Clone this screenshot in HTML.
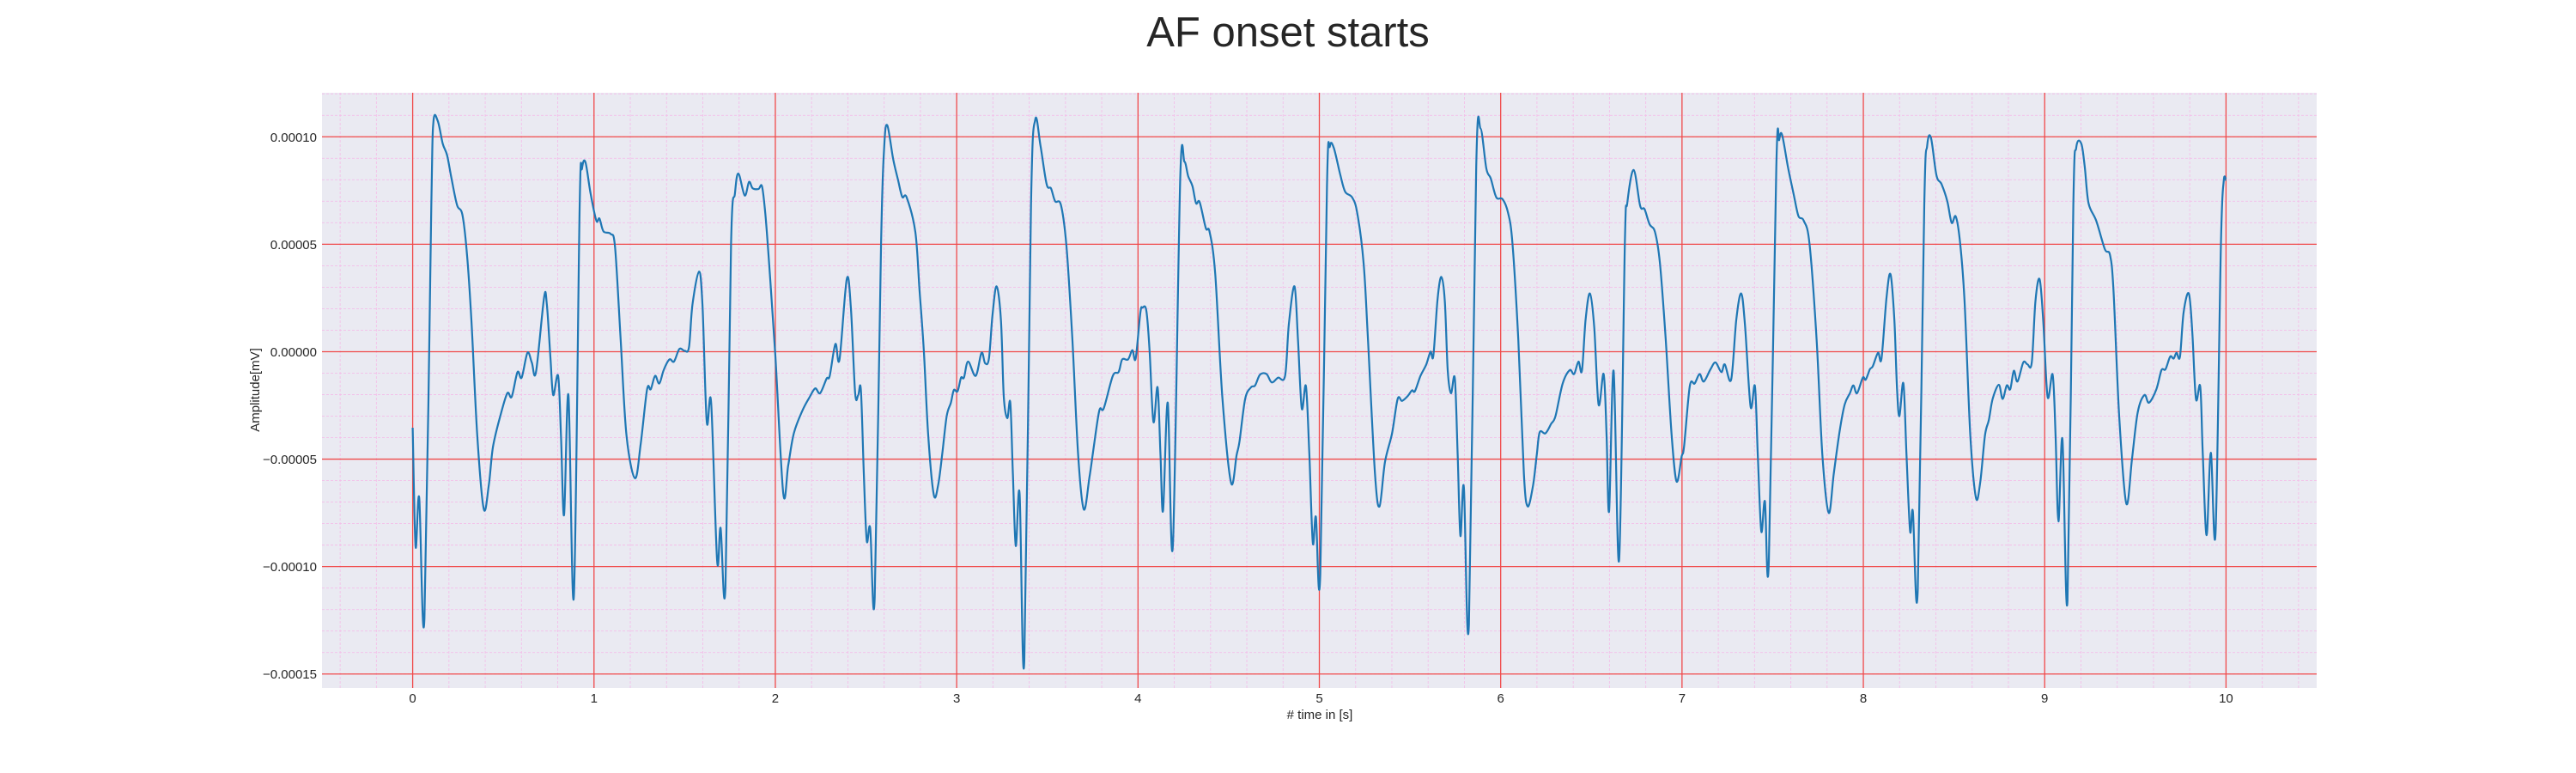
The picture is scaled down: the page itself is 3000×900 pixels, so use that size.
<!DOCTYPE html>
<html>
<head>
<meta charset="utf-8">
<style>
  html,body{margin:0;padding:0;background:#fff;}
  svg{display:block;}
  text{font-family:"Liberation Sans", Arial, sans-serif; fill:#262626;}
</style>
</head>
<body>
<svg id="chart" width="3000" height="900" viewBox="0 0 3000 900" xmlns="http://www.w3.org/2000/svg">
  <text x="1500" y="54" font-size="49" text-anchor="middle">AF onset starts</text>
  <rect x="375" y="108" width="2323" height="693" fill="#EAEAF2"/>
  <g id="grid-minor"></g>
  <g id="grid-major"></g>
  <g id="series"></g>
  <g id="xticks"></g>
  <g id="yticks"></g>
  <text x="1537" y="837" font-size="15" text-anchor="middle"># time in [s]</text>
  <text transform="translate(302,454) rotate(-90)" font-size="15" text-anchor="middle">Amplitude[mV]</text>
</svg>
<script>
// ---- data (amplitude in units of 1e-5 mV) ----
const xTickValues = [0,1,2,3,4,5,6,7,8,9,10];
const xTickLabels = ["0","1","2","3","4","5","6","7","8","9","10"];
const yTickValues = [10,5,0,-5,-10,-15];
const yTickLabels = ["0.00010","0.00005","0.00000","\u22120.00005","\u22120.00010","\u22120.00015"];
const times = [0,0.016,0.036,0.065,0.103,0.114,0.138,0.166,0.19,0.214,0.245,0.274,0.30,0.324,0.356,0.392,0.42,0.443,0.483,0.522,0.546,0.578,0.601,0.633,0.657,0.68,0.725,0.74,0.76,0.775,0.802,0.818,0.835,0.859,0.889,0.921,0.934,0.953,0.981,1.013,1.03,1.052,1.092,1.116,1.147,1.179,1.226,1.258,1.293,1.313,1.337,1.36,1.384,1.416,1.441,1.471,1.5,1.524,1.543,1.579,1.598,1.622,1.646,1.679,1.698,1.725,1.756,1.777,1.796,1.831,1.855,1.875,1.907,1.927,1.946,1.97,2.0,
2.044,2.071,2.102,2.15,2.19,2.22,2.247,2.283,2.3,2.331,2.354,2.394,2.417,2.44,2.457,2.472,2.488,2.504,2.523,2.548,2.583,2.6,2.617,2.65,2.677,2.7,2.724,2.772,2.795,2.819,2.843,2.874,2.898,2.92,2.945,2.968,2.984,3.005,3.024,3.04,3.063,3.105,3.137,3.157,3.178,3.197,3.22,3.244,3.26,3.279,3.296,3.31,3.326,3.347,3.373,3.41,3.433,3.462,3.496,3.52,3.543,3.575,3.606,3.638,3.67,3.701,3.732,3.756,3.787,3.811,3.861,3.893,3.913,3.945,3.969,3.987,
4.013,4.025,4.046,4.064,4.085,4.108,4.124,4.138,4.164,4.192,4.233,4.256,4.277,4.3,4.32,4.34,4.374,4.395,4.426,4.465,4.513,4.544,4.56,4.591,4.623,4.646,4.673,4.709,4.737,4.772,4.811,4.832,4.863,4.882,4.903,4.926,4.945,4.964,4.981,5.005,5.042,5.058,5.079,5.115,5.142,5.181,5.209,5.244,5.267,5.307,5.332,5.362,5.401,5.432,5.456,5.487,5.511,5.527,5.558,5.59,5.613,5.629,5.652,5.673,5.692,5.708,5.726,5.747,5.763,5.778,5.797,5.825,5.865,5.889,5.921,5.945,5.976,
6.01,6.041,6.065,6.097,6.128,6.149,6.179,6.199,6.215,6.247,6.278,6.302,6.342,6.381,6.405,6.429,6.448,6.468,6.492,6.516,6.54,6.568,6.584,6.598,6.623,6.653,6.685,6.698,6.733,6.769,6.793,6.821,6.851,6.878,6.91,6.943,6.97,6.998,7.011,7.043,7.07,7.097,7.12,7.157,7.185,7.217,7.236,7.271,7.299,7.326,7.347,7.378,7.402,7.418,7.437,7.457,7.479,7.52,7.536,7.552,7.584,7.615,7.642,7.671,7.703,7.742,7.774,7.809,7.837,7.869,7.897,7.926,7.945,7.965,7.997,
8.013,8.036,8.052,8.081,8.1,8.128,8.15,8.171,8.186,8.199,8.221,8.238,8.258,8.273,8.3,8.336,8.352,8.373,8.403,8.431,8.463,8.487,8.51,8.534,8.558,8.59,8.621,8.645,8.671,8.692,8.713,8.747,8.768,8.791,8.81,8.83,8.85,8.882,8.905,8.929,8.949,8.972,8.992,9.016,9.044,9.06,9.076,9.098,9.126,9.158,9.174,9.202,9.221,9.242,9.284,9.332,9.36,9.379,9.411,9.45,9.482,9.513,9.55,9.575,9.616,9.644,9.666,9.692,9.711,9.727,9.746,9.766,9.795,9.814,9.834,9.858,9.872,9.893,9.916,9.942,9.972,9.987,10.0];
const amplitudes = [-3.54,-9.07,-6.79,-12.4,6.8,10.66,10.75,9.68,9.14,8.07,6.82,6.375,4.5,1.46,-3.89,-7.32,-6.2,-4.43,-3.0,-1.93,-2.1,-0.95,-1.21,-0.05,-0.5,-0.95,2.54,2.18,-0.32,-2.02,-1.125,-3.89,-7.6,-2.02,-11.4,6.82,8.52,8.82,7.36,6.1,6.2,5.6,5.48,4.86,0.57,-3.89,-5.89,-4.25,-1.75,-1.75,-1.125,-1.48,-0.86,-0.36,-0.46,0.125,0.04,0.21,2.18,3.73,2.18,-3.27,-2.375,-9.75,-8.2,-10.9,5.04,7.36,8.29,7.27,7.9,7.6,7.57,7.68,6.29,3.6,-0.2,
-6.6,-5.3,-3.8,-2.73,-2.1,-1.71,-1.93,-1.25,-1.125,0.36,-0.36,3.39,2.0,-1.93,-2.02,-1.79,-5.68,-8.8,-8.2,-11.43,5.04,9.5,10.54,8.96,7.98,7.2,7.18,5.57,2.9,0.04,-3.89,-6.66,-6.2,-4.8,-3.0,-2.375,-1.79,-1.84,-1.21,-1.21,-0.46,-1.125,-0.05,-0.54,-0.32,1.64,3.04,1.46,-2.1,-3.09,-2.375,-5.68,-9.04,-6.6,-14.4,6.82,10.79,9.6,7.8,7.6,7.0,6.82,4.86,0.57,-4.8,-7.34,-5.86,-4.43,-2.73,-2.64,-1.125,-0.95,-0.36,-0.36,0.07,-0.32,
1.82,2.05,1.91,0.04,-3.27,-1.66,-4.8,-7.4,-2.375,-9.04,8.07,8.84,8.16,7.71,6.91,6.96,5.75,5.57,3.6,-2.1,-6.1,-4.8,-4.16,-2.2,-1.66,-1.57,-1.07,-1.04,-1.43,-1.21,-1.125,1.29,3.04,0.57,-2.64,-1.61,-4.8,-8.9,-7.68,-10.36,7.71,9.55,9.5,8.25,7.45,7.18,6.46,4.14,0.75,-5.68,-7.2,-5.14,-3.8,-2.2,-2.29,-2.07,-1.8,-1.84,-1.125,-0.59,0,-0.18,2.45,3.48,2.36,-0.86,-1.93,-1.25,-4.8,-8.57,-6.3,-12.68,8.6,10.39,8.52,8.07,7.18,
7.1,6.46,5.04,0.57,-5.68,-7.2,-6.2,-4.8,-3.75,-3.8,-3.36,-3.0,-1.48,-0.86,-1.04,-0.46,-0.89,1.46,2.71,1.11,-2.46,-1.04,-3.89,-7.41,-0.89,-9.7,5.04,6.91,8.46,6.79,6.64,5.93,5.57,4.14,0.57,-3.89,-6.04,-4.88,-4.43,-1.61,-1.48,-1.04,-1.39,-0.82,-0.5,-0.95,-0.59,-1.3,1.46,2.71,1.29,-2.55,-1.61,-4.8,-8.36,-6.96,-9.75,8.6,9.86,10.09,8.6,7.36,6.32,6.1,5.04,0.57,-4.8,-7.5,-5.68,-3.71,-2.46,-1.93,-1.57,-1.93,-1.21,
-1.3,-0.82,-0.68,-0.05,-0.32,2.54,3.6,1.46,-1.75,-3.0,-1.48,-4.8,-8.36,-7.43,-11.1,6.82,9.59,9.95,8.21,7.8,7.0,6.0,6.29,5.04,2.36,-3.89,-6.8,-6.04,-3.89,-3.18,-2.2,-1.54,-2.2,-1.57,-1.75,-0.89,-1.39,-0.5,-0.59,-0.5,2.36,3.375,1.46,-2.1,-1.07,-3.89,-7.9,-4.07,-11.57,6.82,9.5,9.68,8.6,6.91,6.1,4.77,4.5,2.9,-3.0,-7.07,-4.96,-2.82,-2.02,-2.375,-1.75,-0.86,-0.82,-0.23,-0.32,-0.05,-0.23,1.82,2.71,0.93,-2.2,-1.625,-4.8,-8.54,-4.7,-8.45,5.04,7.93,7.98];

// ---- axes ----
const X0 = 375, X1 = 2698, Y0 = 108, Y1 = 801;
const XMIN = -0.5, XMAX = 10.5, YMIN = -15.65, YMAX = 12.05;
function sx(t){ return X0 + (t - XMIN) / (XMAX - XMIN) * (X1 - X0); }
function sy(v){ return Y1 - (v - YMIN) / (YMAX - YMIN) * (Y1 - Y0); }

const NS = "http://www.w3.org/2000/svg";
function mk(tag, parent){ const e = document.createElementNS(NS, tag); parent.appendChild(e); return e; }

const gMinor = document.getElementById('grid-minor');
const gMajor = document.getElementById('grid-major');
const MINOR_COLOR = '#f3bfe9';
for (let i = -2; i <= 52; i++) {
  const t = i * 0.2;
  if (t < XMIN || t > XMAX) continue;
  const l = mk('line', gMinor);
  
  
  l.setAttribute('x1', sx(t)); l.setAttribute('x2', sx(t));
  l.setAttribute('y1', Y0); l.setAttribute('y2', Y1);
  l.setAttribute('stroke', MINOR_COLOR); l.setAttribute('stroke-width', '0.9'); l.setAttribute('stroke-dasharray', '3,2');
}
for (let v = -15; v <= 12; v++) {
  const l = mk('line', gMinor);
  
  
  l.setAttribute('x1', X0); l.setAttribute('x2', X1);
  l.setAttribute('y1', sy(v)); l.setAttribute('y2', sy(v));
  l.setAttribute('stroke', MINOR_COLOR); l.setAttribute('stroke-width', '0.9'); l.setAttribute('stroke-dasharray', '3,2');
}
const gx = document.getElementById('xticks');
xTickValues.forEach((t, i) => {
  const l = mk('line', gMajor);
  
  
  l.setAttribute('x1', sx(t)); l.setAttribute('x2', sx(t));
  l.setAttribute('y1', Y0); l.setAttribute('y2', Y1);
  l.setAttribute('stroke', '#f04a4a'); l.setAttribute('stroke-width', '1.3');
  const tx = mk('text', gx);
  
  
  tx.setAttribute('x', sx(t)); tx.setAttribute('y', 818);
  tx.setAttribute('font-size', '15'); tx.setAttribute('text-anchor', 'middle');
  tx.textContent = xTickLabels[i];
});
const gy = document.getElementById('yticks');
yTickValues.forEach((v, i) => {
  const l = mk('line', gMajor);
  
  
  l.setAttribute('x1', X0); l.setAttribute('x2', X1);
  l.setAttribute('y1', sy(v)); l.setAttribute('y2', sy(v));
  l.setAttribute('stroke', '#f04a4a'); l.setAttribute('stroke-width', '1.3');
  const tx = mk('text', gy);
  
  
  tx.setAttribute('x', 369); tx.setAttribute('y', sy(v) + 5.5);
  tx.setAttribute('font-size', '15'); tx.setAttribute('text-anchor', 'end');
  tx.textContent = yTickLabels[i];
});

const pts = times.map((t, i) => [sx(t), sy(amplitudes[i])]);
let d = 'M' + pts[0][0].toFixed(1) + ',' + pts[0][1].toFixed(1);
const k = 0.5 / 3;
for (let i = 0; i < pts.length - 1; i++) {
  const p0 = pts[Math.max(0, i - 1)], p1 = pts[i], p2 = pts[i + 1], p3 = pts[Math.min(pts.length - 1, i + 2)];
  const c1x = p1[0] + (p2[0] - p0[0]) * k, c1y = p1[1] + (p2[1] - p0[1]) * k;
  const c2x = p2[0] - (p3[0] - p1[0]) * k, c2y = p2[1] - (p3[1] - p1[1]) * k;
  d += ' C' + c1x.toFixed(1) + ',' + c1y.toFixed(1) + ' ' + c2x.toFixed(1) + ',' + c2y.toFixed(1) + ' ' + p2[0].toFixed(1) + ',' + p2[1].toFixed(1);
}
const path = mk('path', document.getElementById('series'));


path.setAttribute('d', d);
path.setAttribute('fill', 'none');
path.setAttribute('stroke', '#1f77b4');
path.setAttribute('stroke-width', '2.2');
path.setAttribute('stroke-linejoin', 'round');
</script>
</body>
</html>
